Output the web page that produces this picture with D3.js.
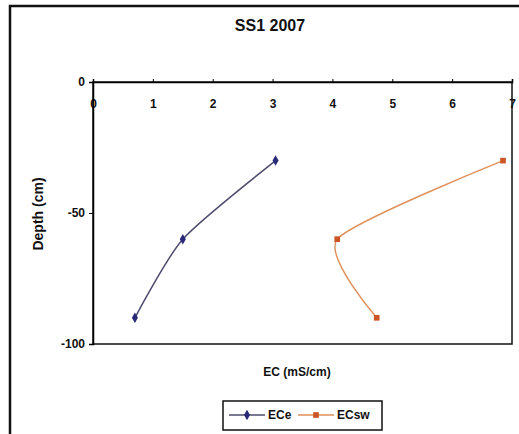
<!DOCTYPE html>
<html>
<head>
<meta charset="utf-8">
<script src="https://cdn.jsdelivr.net/npm/d3@7"></script>
<style>
  body { margin: 0; background: #fff; }
  text { font-family: "Liberation Sans", Arial, sans-serif; font-weight: bold; fill: #111; }
</style>
</head>
<body>
<script>
// values
const depths = [-30, -60, -90]
const ece = [3.05, 1.5, 0.7]
const ecsw = [6.85, 4.08, 4.74]
const xTicks = [0, 1, 2, 3, 4, 5, 6, 7]
const yTicks = [0, -50, -100]
const seriesNames = ['ECe', 'ECsw']

const width = 519
const height = 434
const plot = { left: 93, right: 512, top: 82, bottom: 344 }

const svg = d3.select('body').append('svg').attr('width', width).attr('height', height)

// outer chart frame (runs off the right and bottom edges)
svg.append('path')
  .attr('d', `M10,${height + 5} L10,6 L${width + 5},6`)
  .attr('fill', 'none').attr('stroke', '#111').attr('stroke-width', 2.5)

const xScale = d3.scaleLinear().domain([0, 7]).range([plot.left, plot.right])
const yScale = d3.scaleLinear().domain([-100, 0]).range([plot.bottom, plot.top])

// plot area border
svg.append('rect')
  .attr('x', plot.left).attr('y', plot.top)
  .attr('width', plot.right - plot.left).attr('height', plot.bottom - plot.top)
  .attr('fill', 'none').attr('stroke', '#111').attr('stroke-width', 1.5)

const xAxis = svg.append('g').attr('transform', `translate(0, ${plot.top})`)
  .call(d3.axisTop(xScale).tickValues(xTicks).tickSize(3).tickFormat(String))
xAxis.select('.domain').attr('stroke-width', 1.5)
xAxis.selectAll('text').attr('y', 26).attr('font-size', 12).attr('font-family', null)

const yAxis = svg.append('g').attr('transform', `translate(${plot.left}, 0)`)
  .call(d3.axisLeft(yScale).tickValues(yTicks).tickSize(4).tickFormat(String))
yAxis.select('.domain').attr('stroke-width', 1.5)
yAxis.selectAll('text').attr('x', -8).attr('font-size', 12).attr('font-family', null)

svg.append('text').text('SS1 2007')
  .attr('x', 270).attr('y', 31).attr('text-anchor', 'middle').attr('font-size', 16)

svg.append('text').text('Depth (cm)')
  .attr('transform', 'translate(43, 214) rotate(-90)')
  .attr('text-anchor', 'middle').attr('font-size', 14)

svg.append('text').text('EC (mS/cm)')
  .attr('x', 297).attr('y', 376).attr('text-anchor', 'middle').attr('font-size', 12)

const line = d3.line().curve(d3.curveCardinal.tension(0.35))
  .x((d) => xScale(d[0])).y((d) => yScale(d[1]))

const series = [
  { name: seriesNames[0], values: ece, line: '#4c4c6e', marker: '#2a2a78', shape: d3.symbolDiamond },
  { name: seriesNames[1], values: ecsw, line: '#e0905a', marker: '#cc5526', shape: d3.symbolSquare }
]

series.forEach((s) => {
  const pts = s.values.map((v, i) => [v, depths[i]])
  svg.append('path').datum(pts).attr('d', line)
    .attr('fill', 'none').attr('stroke', s.line).attr('stroke-width', 1.5)
  svg.selectAll(null).data(pts).enter().append('path')
    .attr('d', d3.symbol().type(s.shape).size(32))
    .attr('transform', (d) => `translate(${xScale(d[0])}, ${yScale(d[1])})`)
    .attr('fill', s.marker)
})

// legend
const legend = svg.append('g')
legend.append('rect').attr('x', 223).attr('y', 401).attr('width', 159).attr('height', 29)
  .attr('fill', '#fff').attr('stroke', '#111').attr('stroke-width', 1.5)
series.forEach((s, i) => {
  const x0 = 229 + i * 69
  legend.append('line').attr('x1', x0).attr('x2', x0 + 36).attr('y1', 415).attr('y2', 415)
    .attr('stroke', s.line).attr('stroke-width', 1.5)
  legend.append('path').attr('d', d3.symbol().type(s.shape).size(32))
    .attr('transform', `translate(${x0 + 18}, 415)`).attr('fill', s.marker)
  legend.append('text').text(s.name).attr('x', x0 + 39).attr('y', 419).attr('font-size', 12)
})
</script>
</body>
</html>
